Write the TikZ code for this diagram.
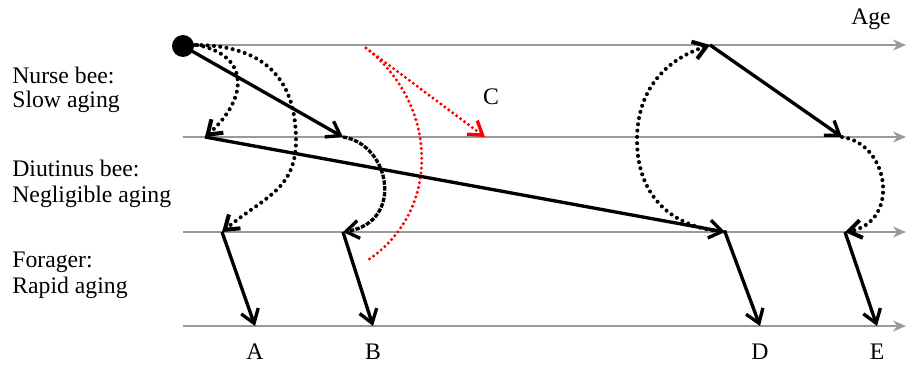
\documentclass[tikz,border=0pt]{standalone}
\usepackage{fontspec}
\setmainfont{Liberation Serif}
\usetikzlibrary{arrows.meta,calc}

\tikzset{
  axisline/.style={draw=gray!80, line width=1pt, -{Stealth[length=2.6mm,width=2.2mm]}},
  move/.style={draw=black, line width=1.9pt, -{Straight Barb[length=2.6mm,width=3.6mm]}},
  dotmove/.style={move, line width=2.3pt, dash pattern=on 0pt off 3.6pt, line cap=round},
  dashmove/.style={move, line width=1.9pt, dash pattern=on 2.5pt off 0.8pt},
  redmove/.style={draw=red, line width=1.9pt, dash pattern=on 0pt off 2.8pt, line cap=round},
  caste/.style={anchor=west, font=\fontsize{13.5}{16}\selectfont, inner sep=0pt},
  endlabel/.style={font=\fontsize{13.5}{16}\selectfont, inner sep=0pt},
}

\begin{document}
\begin{tikzpicture}[x=0.02cm, y=0.02cm]
  \useasboundingbox (0,0) rectangle (908,372);

  % Age axes for the four stages
  \coordinate (l1) at (183,327);
  \coordinate (l2) at (183,235);
  \coordinate (l3) at (183,140);
  \coordinate (l4) at (183,46);
  \coordinate (r1) at (906,327);
  \coordinate (r2) at (906,235);
  \coordinate (r3) at (906,140);
  \coordinate (r4) at (906,46);
  \foreach \i in {1,...,4} {\draw[axisline] (l\i) -- (r\i);}

  % Transition points
  \coordinate (start) at (183,326);
  \coordinate (dA) at (205,235);
  \coordinate (dB) at (343,235);
  \coordinate (fA) at (222,140);
  \coordinate (fB) at (343,140);
  \coordinate (eA) at (255,46);
  \coordinate (eB) at (373,46);
  \coordinate (fD) at (725,140);
  \coordinate (eD) at (760,46);
  \coordinate (nD) at (710,327);
  \coordinate (dE) at (842,235);
  \coordinate (fE) at (845,140);
  \coordinate (eE) at (877,46);
  \coordinate (cTop) at (366,324);
  \coordinate (cBot) at (368,112);
  \coordinate (cEnd) at (485,235);
  \coordinate (bulgeA) at (296,232);
  \coordinate (bulgeD) at (637,232);

  % Texts
  \node[caste] (nurse) at (12,297) {Nurse bee:};
  \node[caste] (nurseage) at (12,270) {Slow aging};
  \node[caste] (diut) at (12,204) {Diutinus bee:};
  \node[caste] (diutage) at (12,175) {Negligible aging};
  \node[caste] (forag) at (12,110) {Forager:};
  \node[caste] (foragage) at (12,84) {Rapid aging};
  \node[endlabel] (labA) at (255,20) {A};
  \node[endlabel] (labB) at (373,20) {B};
  \node[endlabel] (labD) at (760,20) {D};
  \node[endlabel] (labE) at (877,20) {E};
  \node[endlabel] (labC) at (491,275) {C};
  \node[endlabel] (age) at (871,353) {Age};

  % Red reversal (C)
  \draw[redmove] (cTop) .. controls (440,266) and (440,160) .. (cBot);
  \draw[redmove, -{Straight Barb[length=2.6mm,width=3.4mm]}] (cTop) -- (cEnd);

  % Pathways A and B
  \draw[move] (start) -- (dB);
  \draw[dotmove] ($(start)+(8,2)$) .. controls (250,320) and (250,275) .. (dA);
  \draw[dotmove] ($(start)+(12,1)$) .. controls +(75,0) and +(0,55) .. (bulgeA)
    .. controls +(0,-50) and +(42,35) .. (fA);
  \draw[dashmove] (dB) .. controls +(47,-7) and +(62,10) .. (fB);
  \draw[move] (fA) -- (eA);
  \draw[move] (fB) -- (eB);

  % Pathways D and E
  \draw[move] (dA) -- (fD);
  \draw[dotmove] (fD) .. controls +(-60,5) and +(0,-50) .. (bulgeD)
    .. controls +(0,50) and +(-45,-15) .. (nD);
  \draw[move] (nD) -- (dE);
  \draw[dotmove] (dE) .. controls +(48,-7) and +(55,10) .. (fE);
  \draw[move] (fD) -- (eD);
  \draw[move] (fE) -- (eE);

  % Emergence
  \fill (start) circle (11);
\end{tikzpicture}
\end{document}
